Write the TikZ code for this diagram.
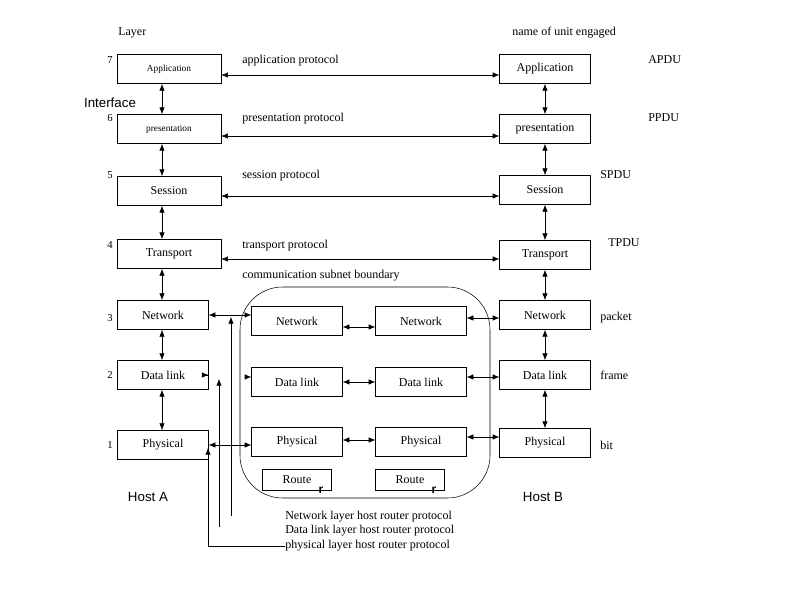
\documentclass[tikz,border=0pt]{standalone}
\usepackage{fontspec}
\setmainfont{Liberation Serif}
\newfontfamily\hostfont{Liberation Sans}
\usetikzlibrary{arrows.meta,positioning}
\begin{document}
\begin{tikzpicture}[x=0.75pt,y=-0.75pt,
          every node/.style={font=\small},
          box/.style={rectangle, draw, minimum width=68pt, minimum height=22pt, inner sep=1pt},
          sbox/.style={rectangle, draw, minimum width=68pt, minimum height=22pt, inner sep=1pt},
          abox/.style={rectangle, draw, minimum width=78pt, minimum height=22pt, inner sep=1pt},
          rbox/.style={rectangle, draw, minimum width=52pt, minimum height=16pt, inner sep=1pt},
          lbl/.style={anchor=west, inner sep=0pt},
          host/.style={font=\hostfont\normalsize, inner sep=0pt},
          arrow/.style={<->, >={Latex[length=5pt,width=4pt]}},
          uarrow/.style={->, >={Latex[length=5pt,width=4pt]}}
        ]
          \useasboundingbox (0,0) rectangle (794,595);

          % Host A
          \node[abox, font=\scriptsize] (aApp) at (169,69) {Application};
          \node[abox, font=\scriptsize] (aPre) at (169,129) {presentation};
          \node[abox] (aSes) at (169,191) {Session};
          \node[abox] (aTra) at (169,254) {Transport};
          \node[box] (aNet) at (163,315) {Network};
          \node[box] (aDat) at (163,375) {Data link};
          \node[box] (aPhy) at (163,445) {Physical};

          % Host B
          \node[box] (bApp) at (545,69) {Application};
          \node[box] (bPre) at (545,129) {presentation};
          \node[box] (bSes) at (545,190) {Session};
          \node[box] (bTra) at (545,255) {Transport};
          \node[box] (bNet) at (545,315) {Network};
          \node[box] (bDat) at (545,375) {Data link};
          \node[box] (bPhy) at (545,443) {Physical};

          % communication subnet
          \draw[rounded corners=32pt] (240,287) rectangle (490,498);
          \node[sbox] (sNet1) at (297,321) {Network};
          \node[sbox] (sNet2) at (421,321) {Network};
          \node[sbox] (sDat1) at (297,382) {Data link};
          \node[sbox] (sDat2) at (421,382) {Data link};
          \node[sbox] (sPhy1) at (297,442) {Physical};
          \node[sbox] (sPhy2) at (421,442) {Physical};
          \node[rbox] (rA) at (297,480) {Route};
          \node[rbox] (rB) at (410,480) {Route};
          \node[font=\hostfont\bfseries\small, inner sep=0pt] at (321,490) {r};
          \node[font=\hostfont\bfseries\small, inner sep=0pt] at (434,490) {r};

          % layer numbers and headings
          \node[lbl] at (118,33) {Layer};
          \node[lbl] at (512,33) {name of unit engaged};
          \foreach \n/\y in {7/60,6/118,5/175,4/245,3/318,2/375,1/445}
            \node[font=\footnotesize, inner sep=0pt] at (110,\y) {\n};
          \foreach \u/\x/\y in {APDU/648/60,PPDU/648/118,SPDU/600/175,TPDU/608/243,packet/600/318,frame/600/375,bit/600/445}
            \node[lbl] at (\x,\y) {\u};

          % peer protocols
          \node[lbl] at (242,61) {application protocol};
          \node[lbl] at (242,119) {presentation protocol};
          \node[lbl] at (242,176) {session protocol};
          \node[lbl] at (242,246) {transport protocol};
          \node[lbl] at (242,276) {communication subnet boundary};
          \draw[arrow] (aApp.east |- 0,75) -- (bApp.west |- 0,75);
          \draw[arrow] (aPre.east |- 0,136) -- (bPre.west |- 0,136);
          \draw[arrow] (aSes.east |- 0,196) -- (bSes.west |- 0,196);
          \draw[arrow] (aTra.east |- 0,259) -- (bTra.west |- 0,259);

          % interfaces
          \foreach \p/\q in {aApp/aPre,aPre/aSes,aSes/aTra,aTra/aNet,aNet/aDat,aDat/aPhy}
            \draw[arrow] (\p.south -| 162,0) -- (\q.north -| 162,0);
          \foreach \p/\q in {bApp/bPre,bPre/bSes,bSes/bTra,bTra/bNet,bNet/bDat,bDat/bPhy}
            \draw[arrow] (\p) -- (\q);

          % subnet links
          \draw[arrow] (aNet.east) -- (aNet.east -| sNet1.west);
          \draw[uarrow] (208,375) -- (aDat.east);
          \draw[uarrow] (246,377) -- (sDat1.west |- 0,377);
          \draw[arrow] (aPhy.east) -- (aPhy.east -| sPhy1.west);
          \draw[arrow] (sNet1.east |- 0,327) -- (sNet2.west |- 0,327);
          \draw[arrow] (sDat1) -- (sDat2);
          \draw[arrow] (sPhy1.east |- 0,440) -- (sPhy2.west |- 0,440);
          \draw[arrow] (sNet2.east |- 0,318) -- (bNet.west |- 0,318);
          \draw[arrow] (sDat2.east |- 0,377) -- (bDat.west |- 0,377);
          \draw[arrow] (sPhy2.east |- 0,437) -- (bPhy.west |- 0,437);

          % host router protocols
          \node[lbl] (pNet) at (285,517) {Network layer host router protocol};
          \node[lbl] (pDat) at (285,531) {Data link layer host router protocol};
          \node[lbl] (pPhy) at (285,546) {physical layer host router protocol};
          \draw[uarrow] (231,516) -- (231,317);
          \draw[uarrow] (219,527) -- (219,379);
          \draw[uarrow] (pPhy.west) -- (208,546) -- (208,448);

          % hosts
          \node[host] at (148,497) {Host A};
          \node[host] at (543,497) {Host B};
          \node[host] at (110,103) {Interface};
        \end{tikzpicture}
\end{document}
